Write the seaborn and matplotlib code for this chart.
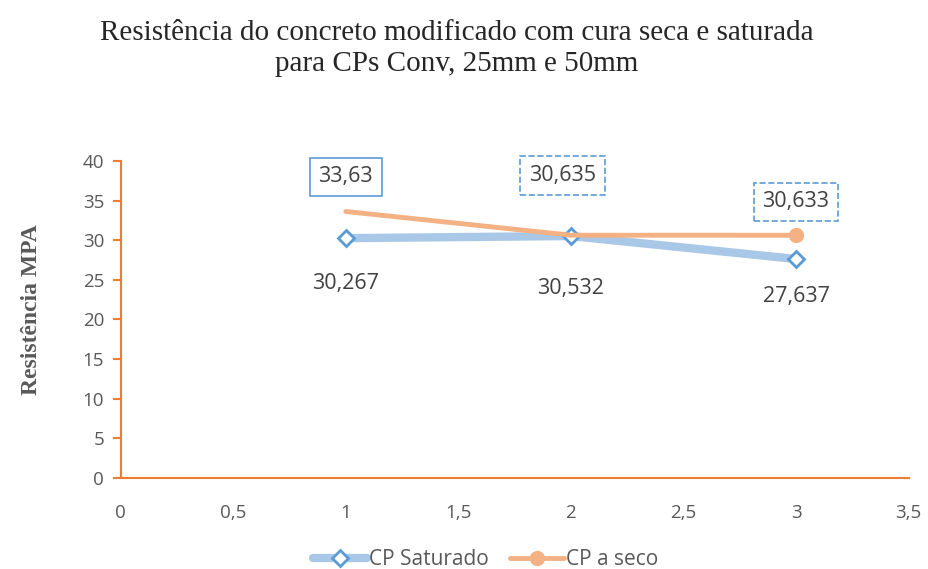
import pandas as pd
import matplotlib.pyplot as plt
import seaborn as sns

# dados
x_vals = [1, 2, 3]
saturado = [30.267, 30.532, 27.637]
seco = [33.63, 30.635, 30.633]
rotulos_sat = ['30,267', '30,532', '27,637']
rotulos_seco = ['33,63', '30,635', '30,633']
x_ticks = [0, 0.5, 1, 1.5, 2, 2.5, 3, 3.5]
x_ticklabels = ['0', '0,5', '1', '1,5', '2', '2,5', '3', '3,5']
y_ticks = [0, 5, 10, 15, 20, 25, 30, 35, 40]

df = pd.DataFrame({'x': x_vals, 'sat': saturado, 'seco': seco})

sns.set_style('white')
plt.rcParams['font.family'] = ['Open Sans', 'DejaVu Sans']

fig = plt.figure(figsize=(9.29, 5.69), dpi=100)
ax = fig.add_axes([0.130, 0.160, 0.848, 0.557])

axis_col = '#ed7d31'
txt_col = '#595959'

sns.lineplot(data=df, x='x', y='sat', ax=ax, color='#a9c8e8', lw=6,
             marker='D', markersize=8, markerfacecolor='white',
             markeredgecolor='#5b9bd5', markeredgewidth=2,
             label='CP Saturado', zorder=3)
sns.lineplot(data=df, x='x', y='seco', ax=ax, color='#f4b183', lw=3.5,
             marker='o', markersize=11, markevery=[2],
             markeredgewidth=0, label='CP a seco', zorder=4)

# rotulos da serie saturada (abaixo dos pontos)
offs_sat = [-33, -38, -27]
for xv, yv, lab, dy in zip(x_vals, saturado, rotulos_sat, offs_sat):
    ax.annotate(lab, (xv, yv), xytext=(0, dy), textcoords='offset points',
                ha='center', va='center', fontsize=15.5, color='#404040')

# rotulos da serie seco (acima, em caixas)
offs_seco = [(0, 25), (-6, 43), (0, 24)]
estilos = ['solid', 'dashed', 'dashed']
for xv, yv, lab, (dx, dy), ls in zip(x_vals, seco, rotulos_seco, offs_seco, estilos):
    ax.annotate(lab, (xv, yv), xytext=(dx, dy), textcoords='offset points',
                ha='center', va='center', fontsize=15.5, color='#404040',
                bbox=dict(boxstyle='square,pad=0.4', fc='white',
                          ec='#5b9bd5', lw=1.2, ls=ls))

ax.set_xlim(0, 3.5)
ax.set_ylim(0, 40)
ax.set_xticks(x_ticks)
ax.set_xticklabels(x_ticklabels)
ax.set_yticks(y_ticks)
ax.tick_params(axis='y', left=True, labelsize=13.5, colors=axis_col,
               labelcolor=txt_col, length=6, width=1.5, direction='out', pad=6)
ax.tick_params(axis='x', bottom=False, labelsize=13.5, labelcolor=txt_col,
               pad=15)

for s in ['top', 'right']:
    ax.spines[s].set_visible(False)
for s in ['left', 'bottom']:
    ax.spines[s].set_color(axis_col)
    ax.spines[s].set_linewidth(1.5)

ax.set_xlabel('')
ax.set_ylabel('Resistência MPA', family='Liberation Serif', fontsize=17,
              fontweight='bold', color=txt_col)
ax.yaxis.set_label_coords(-0.100, 0.53)

fig.suptitle('Resistência do concreto modificado com cura seca e saturada\npara CPs Conv, 25mm e 50mm',
             family='Liberation Serif', fontsize=21, y=0.965, x=0.492,
             linespacing=1.25)

ax.legend(loc='lower center', bbox_to_anchor=(0.463, -0.35), ncol=2,
          frameon=False, fontsize=15, labelcolor=txt_col, handlelength=2.6,
          handletextpad=0.1, columnspacing=1.0)

fig.savefig('out.png', dpi=100)
